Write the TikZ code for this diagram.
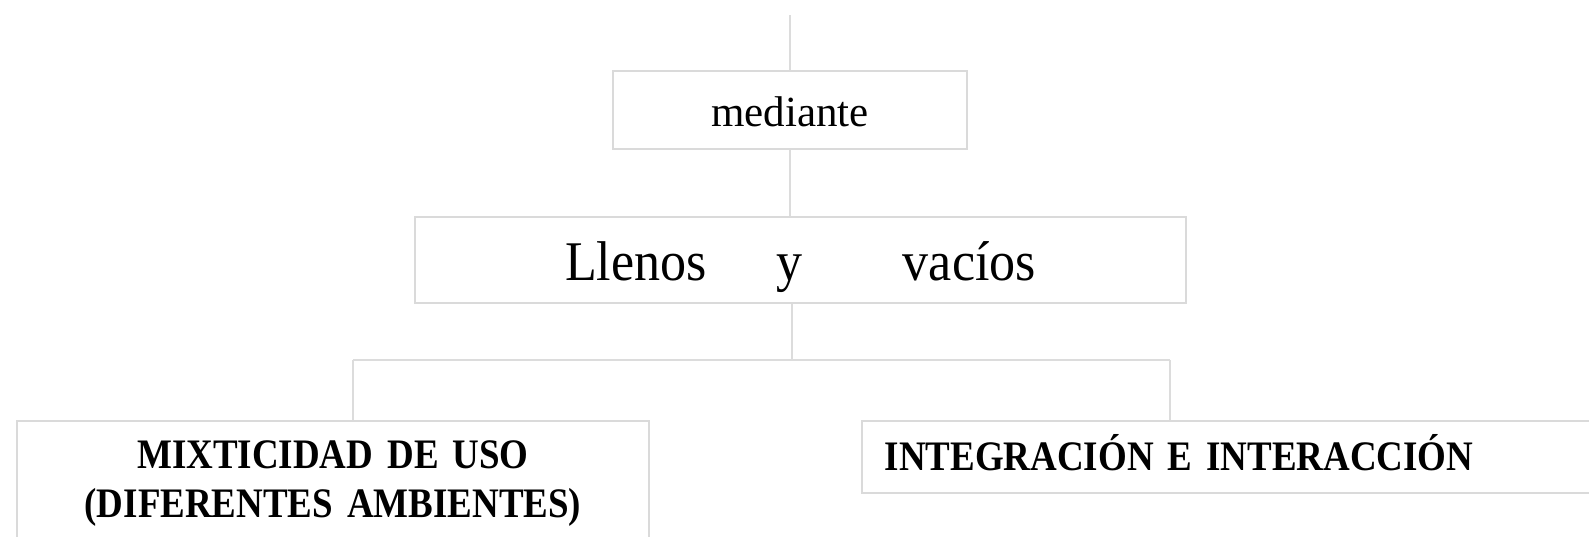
\documentclass[tikz,border=0pt]{standalone}
\usepackage{fontspec}
\setmainfont{Liberation Serif}
\newfontfamily\llfont[FakeStretch=0.93]{Liberation Serif}
\newfontfamily\bfcond[FakeStretch=0.88]{Liberation Serif}
\definecolor{linegray}{HTML}{DCDCDC}
\definecolor{boxgray}{HTML}{DADADA}
\begin{document}
\begin{tikzpicture}[x=1pt,y=-1pt,
  conn/.style={draw=linegray, line width=1.5pt},
  boxstyle/.style={draw=boxgray, line width=1.5pt, rectangle, inner sep=0pt}]
\useasboundingbox (0,0) rectangle (1589,536);
\clip (0,0) rectangle (1589,536);
\coordinate (top) at (790,15);
\node[boxstyle, minimum width=354pt, minimum height=78pt, text height=32pt, text depth=0pt,
  font=\fontsize{43}{50}\selectfont] (med) at (790,110) {mediante};
\node[boxstyle, minimum width=771pt, minimum height=86pt, text height=40pt, text depth=0pt,
  font=\llfont\fontsize{56}{60}\selectfont] (ll) at (800.5,260) {Llenos\hspace{70pt}y\hspace{100pt}vacíos};
\node[boxstyle, anchor=north, text width=632pt, align=center,
  font=\bfcond\bfseries\fontsize{42}{49}\selectfont] (mix) at (333,420)
  {\rule{0pt}{48pt}MIXTICIDAD\hspace{14pt}DE USO\\(DIFERENTES\hspace{14pt}AMBIENTES)\rule[-60pt]{0pt}{1pt}};
\node[boxstyle, anchor=north west, minimum height=72pt, text width=760pt, inner xsep=23pt,
  align=left, text height=28pt, text depth=0pt,
  font=\bfcond\bfseries\fontsize{42}{49}\selectfont] (int) at (861,420) {INTEGRACIÓN E INTERACCIÓN};
\coordinate (j) at (792,360);
\coordinate (bl) at (353,360);
\coordinate (br) at (1170,360);
\draw[conn] (top) -- (med.north);
\draw[conn] (med.south) -- (med.south |- ll.north);
\draw[conn] (j |- ll.south) -- (j);
\draw[conn] (bl) -- (br);
\draw[conn] (bl) -- (bl |- mix.north);
\draw[conn] (br) -- (br |- int.north);
\end{tikzpicture}
\end{document}
